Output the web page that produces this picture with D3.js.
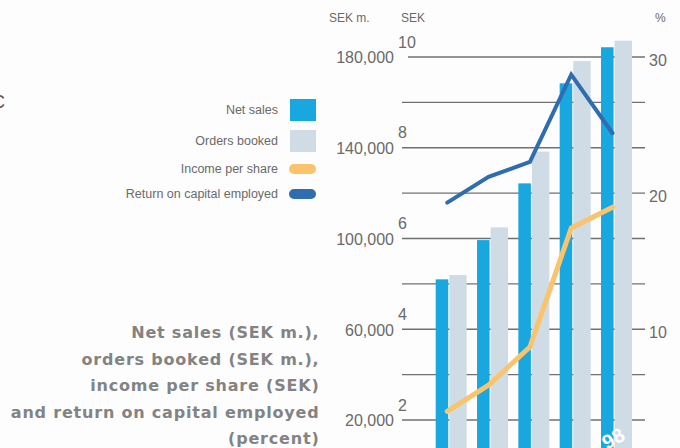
<!DOCTYPE html>
<html>
<head>
<meta charset="utf-8">
<script src="https://cdn.jsdelivr.net/npm/d3@7/dist/d3.min.js"></script>
<style>
  html, body { margin: 0; padding: 0; background: #fdfdfd; }
  svg { display: block; font-family: "Liberation Sans", Arial, Helvetica, sans-serif; }
</style>
</head>
<body>
<svg id="chart" width="680" height="448"></svg>
<script>
// Five years of key figures
const years = ["94", "95", "96", "97", "98"];
const netSales = [82000, 99300, 124300, 168400, 184300];        // SEK m.
const ordersBooked = [83900, 104900, 138300, 178200, 187200];   // SEK m.
const incomePerShare = [2.19, 2.77, 3.61, 6.23, 6.69];          // SEK
const returnOnCapital = [19.3, 21.2, 22.3, 28.7, 24.4];         // percent

// Axis ticks
const gridValues = [20000, 40000, 60000, 80000, 100000, 120000, 140000, 160000, 180000];
const sekmTicks = [20000, 60000, 100000, 140000, 180000];
const sekTicks = [2, 4, 6, 8, 10];
const pctTicks = [10, 20, 30];

// Legend and caption text
const legendItems = [
  { label: "Net sales", kind: "bar", color: "#19a7e0" },
  { label: "Orders booked", kind: "bar", color: "#cfdce5" },
  { label: "Income per share", kind: "line", color: "#fbc36c" },
  { label: "Return on capital employed", kind: "line", color: "#2f6cb0" }
];
const captionLines = [
  "Net sales (SEK m.),",
  "orders booked (SEK m.),",
  "income per share (SEK)",
  "and return on capital employed",
  "(percent)"
];

const svg = d3.select("#chart");
const C = {
  net: "#19a7e0", orders: "#cfdce5", income: "#fbc36c", roce: "#2f6cb0",
  grid: "#707070", text: "#6a6a6a", caption: "#838383"
};

// Scales: the three value axes share the same gridlines
const ySekm = d3.scaleLinear().domain([0, 180000]).range([465.4, 57]);
const ySek = d3.scaleLinear().domain([0, 10]).range([510.8, 57]);
const yPct = d3.scaleLinear().domain([0, 30]).range([465.4, 57]);
const x = d3.scaleBand().domain(years).range([435.7, 632]).paddingInner(0.25).paddingOuter(0);
const bw = x.bandwidth();
const blueW = bw * 0.405, gap = 1, greyW = bw - blueW - gap;

// Gridlines
svg.append("g").selectAll("line").data(gridValues).join("line")
  .attr("x1", d => d === 180000 ? 408 : 402).attr("x2", 645)
  .attr("y1", d => ySekm(d)).attr("y2", d => ySekm(d))
  .attr("stroke", C.grid).attr("stroke-width", 1.3);

// Left axis: SEK m.
const axSekm = svg.append("g").attr("transform", "translate(394,0)")
  .call(d3.axisLeft(ySekm).tickValues(sekmTicks).tickFormat(d3.format(",")).tickSize(0).tickPadding(0));
axSekm.select(".domain").remove();
axSekm.selectAll("text").attr("font-size", 16).attr("fill", C.text)
  .attr("font-family", "Liberation Sans, Arial, sans-serif").attr("dy", "0.36em");

// Inner axis: SEK
const axSek = svg.append("g").attr("transform", "translate(398,0)")
  .call(d3.axisRight(ySek).tickValues(sekTicks).tickSize(0).tickPadding(0));
axSek.select(".domain").remove();
axSek.selectAll("text").attr("font-size", 16).attr("fill", C.text)
  .attr("font-family", "Liberation Sans, Arial, sans-serif").attr("dy", "-0.62em");

// Right axis: percent
const axPct = svg.append("g").attr("transform", "translate(649,0)")
  .call(d3.axisRight(yPct).tickValues(pctTicks).tickSize(0).tickPadding(0));
axPct.select(".domain").remove();
axPct.selectAll("text").attr("font-size", 16).attr("fill", C.text)
  .attr("font-family", "Liberation Sans, Arial, sans-serif").attr("dy", "0.5em");

// Unit headers
const head = svg.append("g").attr("font-size", 12).attr("fill", C.text);
head.append("text").attr("x", 329).attr("y", 22).text("SEK m.");
head.append("text").attr("x", 401).attr("y", 22).text("SEK");
head.append("text").attr("x", 655).attr("y", 22).text("%");

// Bars
const bars = svg.append("g");
bars.selectAll("rect.net").data(years).join("rect").attr("class", "net")
  .attr("x", d => x(d)).attr("width", blueW)
  .attr("y", (d, i) => ySekm(netSales[i]))
  .attr("height", (d, i) => ySekm(0) - ySekm(netSales[i]))
  .attr("fill", C.net);
bars.selectAll("rect.orders").data(years).join("rect").attr("class", "orders")
  .attr("x", d => x(d) + blueW + gap).attr("width", greyW)
  .attr("y", (d, i) => ySekm(ordersBooked[i]))
  .attr("height", (d, i) => ySekm(0) - ySekm(ordersBooked[i]))
  .attr("fill", C.orders);

// Lines
const px = d => x(d) + blueW - 1;
const incomeLine = d3.line().x((d, i) => px(years[i])).y(d => ySek(d));
const roceLine = d3.line().x((d, i) => px(years[i])).y(d => yPct(d));
svg.append("path").datum(incomePerShare).attr("d", incomeLine)
  .attr("fill", "none").attr("stroke", C.income).attr("stroke-width", 5)
  .attr("stroke-linejoin", "round").attr("stroke-linecap", "round");
svg.append("path").datum(returnOnCapital).attr("d", roceLine)
  .attr("fill", "none").attr("stroke", C.roce).attr("stroke-width", 4)
  .attr("stroke-linejoin", "miter").attr("stroke-linecap", "round");

// Latest year label on its bar pair
const lastYear = years[years.length - 1];
svg.append("text")
  .attr("transform", `translate(${x(lastYear) + 6},${450}) rotate(-30)`)
  .attr("font-size", 20).attr("font-weight", "bold").attr("fill", "#ffffff")
  .text(lastYear);

// Legend
const legend = svg.append("g");
const rowY = [110, 141, 169, 194];
legendItems.forEach((it, i) => {
  legend.append("text").attr("x", 278).attr("y", rowY[i]).attr("dy", "0.35em")
    .attr("text-anchor", "end").attr("font-size", 12.5).attr("fill", C.text).text(it.label);
  if (it.kind === "bar") {
    legend.append("rect").attr("x", 290).attr("y", rowY[i] - 11).attr("width", 26).attr("height", 22)
      .attr("fill", it.color);
  } else {
    legend.append("rect").attr("x", 289).attr("y", rowY[i] - 5).attr("width", 27).attr("height", 10)
      .attr("rx", 5).attr("fill", it.color);
  }
});

// Stray letter at the left edge
svg.append("text").attr("x", -8).attr("y", 108).attr("font-size", 18).attr("fill", "#555").text("C");

// Caption
const cap = svg.append("g").attr("font-family", "DejaVu Sans, Verdana, sans-serif")
  .attr("font-size", 16).attr("font-weight", "bold")
  .attr("fill", C.caption).attr("text-anchor", "end").attr("letter-spacing", 0.8);
captionLines.forEach((t, i) => {
  cap.append("text").attr("x", 319.5).attr("y", 338 + i * 26.6).text(t);
});
</script>
</body>
</html>
